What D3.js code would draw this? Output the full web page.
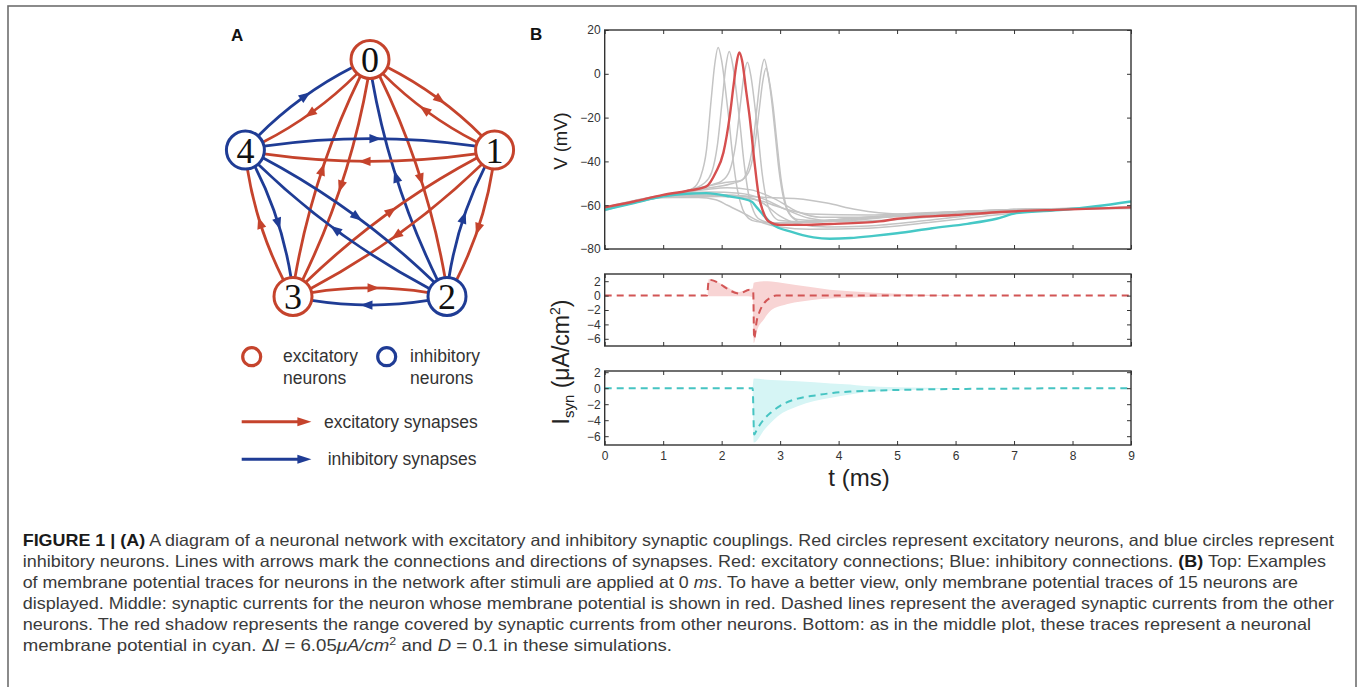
<!DOCTYPE html>
<html>
<head>
<meta charset="utf-8">
<script src="https://cdn.jsdelivr.net/npm/d3@7"></script>
<style>
body { margin: 0; background: #fff; }
text { font-family: "Liberation Sans", Arial, sans-serif; }
</style>
</head>
<body>
<svg width="1360" height="687"></svg>
<script>
// ---- data ----
let neuronTypes = ["exc", "exc", "inh", "exc", "inh"]
let links = [[0,1],[1,0],[0,2],[2,0],[0,3],[3,0],[0,4],[4,0],[1,2],[2,1],
             [1,3],[3,1],[1,4],[4,1],[2,3],[3,2],[2,4],[4,2],[3,4],[4,3]]

let tTicks = [0, 1, 2, 3, 4, 5, 6, 7, 8, 9]
let vTicks = [20, 0, -20, -40, -60, -80]
let iTicks = [2, 0, -2, -4, -6]

let redTrace = [[0,-61],[0.5,-58.3],[1,-55.3],[1.4,-53.5],[1.74,-51.4],[1.9,-45],[2.03,-36],[2.14,-19],[2.2,-6],[2.25,4],[2.3,9.8],[2.35,6],[2.42,-8],[2.48,-20],[2.56,-40],[2.63,-55],[2.71,-63],[2.8,-67.3],[3.0,-69],[3.4,-69],[3.85,-68.6],[4.7,-67.4],[5,-66.2],[6,-64.5],[6.7,-63.2],[7.84,-62],[9,-61]]

let cyanTrace = [[0,-62.1],[0.5,-59],[1,-56],[1.4,-54.8],[1.74,-54.5],[2.14,-56],[2.51,-58.3],[2.6,-61],[2.71,-64.4],[2.88,-69],[3.17,-72],[3.57,-74.7],[3.85,-75.3],[4.2,-75],[4.6,-74],[5,-72.8],[5.6,-70.5],[6.2,-68.5],[6.7,-66.2],[7.04,-63.6],[7.84,-62.1],[8.4,-60.5],[9,-58.3]]

let grayTraces = [
  [[0,-61],[0.5,-58.5],[1,-55.5],[1.3,-54],[1.5,-52.5],[1.64,-47],[1.74,-35],[1.82,-12],[1.88,4],[1.94,12],[2.0,6],[2.06,-6],[2.12,-20],[2.19,-38],[2.27,-53],[2.36,-62],[2.46,-66],[2.6,-67.5],[2.9,-68],[3.3,-68],[4,-66.5],[5,-65],[6,-63.5],[7,-62.5],[8,-61.5],[9,-61]],
  [[0,-61],[0.5,-58.5],[1,-55.5],[1.4,-53.5],[1.7,-50],[1.83,-45],[1.93,-32],[2.01,-12],[2.07,3],[2.13,10.2],[2.19,4],[2.25,-8],[2.31,-22],[2.38,-40],[2.46,-55],[2.55,-63],[2.65,-66.5],[2.85,-68],[3.3,-68],[4,-67],[5,-65],[6,-63.5],[7,-62.5],[8,-61.5],[9,-61]],
  [[0,-61.5],[1,-56],[1.6,-53],[1.85,-50.5],[2.0,-49],[2.14,-44],[2.24,-32],[2.32,-14],[2.38,-1],[2.44,5.3],[2.5,-1],[2.56,-13],[2.62,-27],[2.69,-45],[2.77,-58],[2.87,-64.5],[3.0,-67],[3.3,-67.5],[3.6,-67.5],[4.2,-66],[5,-64.5],[6,-63],[7,-62],[8,-61.5],[9,-61]],
  [[0,-61.5],[1,-56],[1.8,-52],[2.2,-50],[2.35,-48.5],[2.43,-45],[2.53,-33],[2.61,-14],[2.67,0],[2.73,6.7],[2.79,0],[2.85,-11],[2.91,-26],[2.98,-44],[3.06,-57],[3.16,-64],[3.3,-66.5],[3.6,-67],[4,-66.5],[5,-64.5],[6,-63],[7,-62],[8,-61.5],[9,-61]],
  [[0,-62],[1,-56],[1.8,-51],[2.1,-49.5],[2.3,-49],[2.46,-45],[2.56,-34],[2.64,-17],[2.7,-4],[2.76,2.6],[2.82,-4],[2.88,-15],[2.94,-30],[3.01,-47],[3.09,-59],[3.19,-65],[3.35,-67.5],[3.7,-67.5],[4.2,-67],[5,-65],[6,-63.5],[7,-62],[8,-61.5],[9,-61]],
  [[0,-62],[1,-56],[1.6,-55],[2.2,-55.5],[2.8,-56.5],[3.3,-57],[3.8,-59],[4.3,-62],[5,-64],[6,-63.5],[7,-62.5],[8,-61.5],[9,-61]],
  [[0,-62],[1,-56.5],[1.6,-56.5],[1.9,-57.5],[2.1,-60],[2.4,-64],[2.7,-68],[3,-70],[3.5,-71],[4.5,-70.5],[5.5,-68],[6.5,-65],[7.5,-62.5],[9,-61]],
  [[0,-62],[1,-56],[2,-55.5],[2.4,-56],[2.7,-59],[3,-65],[3.3,-68.5],[3.8,-70],[4.5,-69.5],[5.5,-67],[6.5,-64],[7.5,-62],[9,-61.5]],
  [[0,-61.5],[1,-55.5],[1.7,-53],[2.1,-52],[2.5,-53],[2.9,-57],[3.3,-63],[3.7,-65.5],[4.5,-65.5],[5.5,-64.5],[7,-62.5],[9,-61]],
  [[0,-61],[1,-55.5],[1.8,-54],[2.3,-54.5],[2.7,-57],[3.1,-62],[3.5,-66],[4,-67.5],[5,-66.5],[6,-64.5],[7,-62.5],[9,-61]],
  [[0,-62.5],[1,-56.5],[2,-56],[2.6,-57.5],[3,-61],[3.5,-64],[4.5,-64.5],[5.5,-63.5],[7,-62],[9,-61]]
]

// [t, mean]
let redMean = [[0,0],[1.75,0],[1.78,2.2],[2.3,0.3],[2.48,0.8],[2.54,0.5],[2.555,-6.0],[2.6,-3.5],[2.65,-2.2],[2.73,-1.0],[2.83,-0.3],[2.93,0],[9,0]]
// [t, low, high]
let redBand = [[1.76,0,0],[1.78,-0.1,2.3],[2.0,-0.1,1.6],[2.3,-0.1,0.5],[2.45,-0.1,0.9],[2.53,-0.2,1.0],[2.55,-6.6,1.8],[2.6,-5.0,1.9],[2.73,-3.2,2.0],[2.85,-2.0,1.95],[3.07,-1.3,1.7],[3.3,-0.9,1.45],[3.55,-0.6,1.15],[3.85,-0.4,0.8],[4.2,-0.3,0.6],[4.6,-0.2,0.4],[5.0,-0.1,0.25],[5.5,-0.05,0.12],[6,0,0.04]]

let cyanMean = [[0,0],[2.53,0],[2.555,-5.8],[2.6,-5.2],[2.7,-4.1],[2.85,-3.0],[3.0,-2.2],[3.3,-1.3],[3.6,-0.9],[3.9,-0.6],[4.2,-0.42],[4.6,-0.3],[5,-0.22],[6,-0.1],[7,-0.05],[8,0],[9,0]]
let cyanBand = [[2.53,0,0],[2.55,-6.8,1.2],[2.73,-5.2,1.1],[2.96,-3.5,1.0],[3.3,-2.25,0.87],[3.87,-1.2,0.6],[4.2,-0.8,0.46],[4.4,-0.55,0.3],[5,-0.3,0.12],[5.5,-0.15,0.05],[6,-0.05,0]]

let captionLines = [
  [["FIGURE 1 | (A)", "b"], [" A diagram of a neuronal network with excitatory and inhibitory synaptic couplings. Red circles represent excitatory neurons, and blue circles represent", ""]],
  [["inhibitory neurons. Lines with arrows mark the connections and directions of synapses. Red: excitatory connections; Blue: inhibitory connections. ", ""], ["(B)", "b"], [" Top: Examples", ""]],
  [["of membrane potential traces for neurons in the network after stimuli are applied at 0 ", ""], ["ms", "i"], [". To have a better view, only membrane potential traces of 15 neurons are", ""]],
  [["displayed. Middle: synaptic currents for the neuron whose membrane potential is shown in red. Dashed lines represent the averaged synaptic currents from the other", ""]],
  [["neurons. The red shadow represents the range covered by synaptic currents from other neurons. Bottom: as in the middle plot, these traces represent a neuronal", ""]],
  [["membrane potential in cyan. \u0394", ""], ["I", "i"], [" = 6.05", ""], ["\u03bcA/cm", "i"], ["2", "sup"], [" and ", ""], ["D", "i"], [" = 0.1 in these simulations.", ""]]
]
let captionEnds = [1334, 1326, 1298, 1334, 1311, 672]

// ---- drawing ----
let svg = d3.select("svg")
let excColor = "#c5432c"
let inhColor = "#1f3c95"

svg.append("rect")
   .attr("x", 8).attr("y", 6).attr("width", 1348).attr("height", 700)
   .attr("fill", "none").attr("stroke", "#6e6e6e").attr("stroke-width", 1.6)

// panel A: network
let cx = 370, cy = 190.5, R = 131, r = 19
let nodePos = (i) => {
    let a = (-90 + 72 * i) * Math.PI / 180
    return [cx + R * Math.cos(a), cy + R * Math.sin(a)]
}
let colorOf = (i) => neuronTypes[i] == "exc" ? excColor : inhColor

let edgeGeom = ([s, t]) => {
    let [x1, y1] = nodePos(s), [x2, y2] = nodePos(t)
    let th = Math.atan2(y2 - y1, x2 - x1)
    let L = Math.hypot(x2 - x1, y2 - y1)
    let phi = 12 * Math.PI / 180
    let p0 = [x1 + r * Math.cos(th - phi), y1 + r * Math.sin(th - phi)]
    let p2 = [x2 + r * Math.cos(th + Math.PI + phi), y2 + r * Math.sin(th + Math.PI + phi)]
    let nx = Math.sin(th), ny = -Math.cos(th)
    let off = 0.06 * L
    let c = [(p0[0] + p2[0]) / 2 + nx * off, (p0[1] + p2[1]) / 2 + ny * off]
    return {p0, c, p2}
}
let bez = (g, u) => [0, 1].map(k => (1-u)*(1-u)*g.p0[k] + 2*u*(1-u)*g.c[k] + u*u*g.p2[k])
let bezTan = (g, u) => {
    let d = [0, 1].map(k => 2*(1-u)*(g.c[k]-g.p0[k]) + 2*u*(g.p2[k]-g.c[k]))
    let n = Math.hypot(d[0], d[1])
    return [d[0]/n, d[1]/n]
}
let arrowHead = (p, d, len, w) => {
    let tip = [p[0] + d[0]*len*0.6, p[1] + d[1]*len*0.6]
    let b = [p[0] - d[0]*len*0.4, p[1] - d[1]*len*0.4]
    return "M" + tip + "L" + [b[0] - d[1]*w, b[1] + d[0]*w] + "L" + [b[0] + d[1]*w, b[1] - d[0]*w] + "Z"
}

let net = svg.append("g")
net.selectAll("path.edge")
   .data(links)
   .enter()
   .append("path")
   .attr("class", "edge")
   .attr("d", (d) => { let g = edgeGeom(d); return "M" + g.p0 + "Q" + g.c + " " + g.p2 })
   .attr("fill", "none")
   .attr("stroke", (d) => colorOf(d[0]))
   .attr("stroke-width", 2.8)

net.selectAll("path.head")
   .data(links)
   .enter()
   .append("path")
   .attr("class", "head")
   .attr("d", (d) => { let g = edgeGeom(d); return arrowHead(bez(g, 0.52), bezTan(g, 0.52), 12, 4.6) })
   .attr("fill", (d) => colorOf(d[0]))

let nodeG = net.selectAll("g.node")
   .data(neuronTypes)
   .enter()
   .append("g")
   .attr("class", "node")
   .attr("transform", (d, i) => "translate(" + nodePos(i) + ")")
nodeG.append("circle")
     .attr("r", r)
     .attr("fill", "#fff")
     .attr("stroke", (d) => d == "exc" ? excColor : inhColor)
     .attr("stroke-width", 3)
nodeG.append("text")
     .attr("text-anchor", "middle")
     .attr("y", 12.5)
     .style("font-family", "'Liberation Serif', 'DejaVu Serif', serif")
     .style("font-size", "36px")
     .attr("fill", "#111")
     .text((d, i) => i)

svg.append("text").attr("x", 231).attr("y", 41).text("A")
   .style("font-weight", "bold").style("font-size", "17px").attr("fill", "#111")

// legend
let legend = svg.append("g").style("font-size", "17.5px").attr("fill", "#333")
legend.append("circle").attr("cx", 251.7).attr("cy", 356.7).attr("r", 9)
      .attr("fill", "none").attr("stroke", excColor).attr("stroke-width", 3.2)
legend.append("circle").attr("cx", 386.7).attr("cy", 356.7).attr("r", 9)
      .attr("fill", "none").attr("stroke", inhColor).attr("stroke-width", 3.2)
legend.append("text").attr("x", 283).attr("y", 362).text("excitatory")
legend.append("text").attr("x", 283).attr("y", 384).text("neurons")
legend.append("text").attr("x", 410).attr("y", 362).text("inhibitory")
legend.append("text").attr("x", 410).attr("y", 384).text("neurons")
let legArrows = [[421.7, excColor, "excitatory synapses", 324], [459.3, inhColor, "inhibitory synapses", 327.7]]
legArrows.forEach(([y, col, label, tx]) => {
    legend.append("line").attr("x1", 241.7).attr("x2", 302).attr("y1", y).attr("y2", y)
          .attr("stroke", col).attr("stroke-width", 3)
    legend.append("path").attr("d", arrowHead([303, y], [1, 0], 14, 4.5)).attr("fill", col)
    legend.append("text").attr("x", tx).attr("y", y + 6).text(label)
})

// panel B
svg.append("text").attr("x", 530).attr("y", 40).text("B")
   .style("font-weight", "bold").style("font-size", "17px").attr("fill", "#111")

let x0 = 604.7, x1 = 1131
let xScale = d3.scaleLinear().domain([0, 9]).range([x0, x1])
let panels = [
    {y: d3.scaleLinear().domain([-80, 20]).range([249, 30]), ticks: vTicks},
    {y: d3.scaleLinear().domain([-7, 3]).range([346, 274]), ticks: iTicks},
    {y: d3.scaleLinear().domain([-7.1, 2.15]).range([445, 371]), ticks: iTicks}
]

let styleAxis = (g) => {
    g.select(".domain").remove()
    g.selectAll(".tick line").attr("stroke", "#333").attr("stroke-width", 1)
    g.selectAll(".tick text").attr("fill", "#333").style("font-size", "12px")
}

panels.forEach((p, k) => {
    let [yb, yt] = p.y.range()
    svg.append("clipPath").attr("id", "clip" + k)
       .append("rect").attr("x", x0).attr("y", yt).attr("width", x1 - x0).attr("height", yb - yt)
    p.g = svg.append("g").attr("clip-path", "url(#clip" + k + ")")

    let bottomAxis = d3.axisBottom(xScale).tickValues(tTicks).tickSize(-4).tickPadding(6)
    if (k < 2) bottomAxis.tickFormat("")
    svg.append("g").attr("transform", "translate(0," + yb + ")").call(bottomAxis).call(styleAxis)
    svg.append("g").attr("transform", "translate(0," + yt + ")")
       .call(d3.axisTop(xScale).tickValues(tTicks).tickSize(-4).tickFormat("")).call(styleAxis)
    svg.append("g").attr("transform", "translate(" + x0 + ",0)")
       .call(d3.axisLeft(p.y).tickValues(p.ticks).tickSize(-4).tickPadding(4)).call(styleAxis)
    svg.append("g").attr("transform", "translate(" + x1 + ",0)")
       .call(d3.axisRight(p.y).tickValues(p.ticks).tickSize(-4).tickFormat("")).call(styleAxis)
})

let lineOf = (ys) => d3.line().x((d) => xScale(d[0])).y((d) => ys(d[1])).curve(d3.curveMonotoneX)
let areaOf = (ys) => d3.area().x((d) => xScale(d[0])).y0((d) => ys(d[1])).y1((d) => ys(d[2])).curve(d3.curveMonotoneX)

// top: membrane potentials
let vPanel = panels[0]
vPanel.g.selectAll("path.gray")
     .data(grayTraces)
     .enter()
     .append("path")
     .attr("class", "gray")
     .attr("d", lineOf(vPanel.y))
     .attr("fill", "none")
     .attr("stroke", "#c4c4c4")
     .attr("stroke-width", 1.5)
vPanel.g.append("path").attr("d", lineOf(vPanel.y)(cyanTrace))
     .attr("fill", "none").attr("stroke", "#46c8c6").attr("stroke-width", 2.4)
vPanel.g.append("path").attr("d", lineOf(vPanel.y)(redTrace))
     .attr("fill", "none").attr("stroke", "#d64f4f").attr("stroke-width", 2.4)

// middle: red neuron currents
let midPanel = panels[1]
midPanel.g.append("path").attr("d", areaOf(midPanel.y)(redBand)).attr("fill", "#f8d4d4")
midPanel.g.append("path").attr("d", lineOf(midPanel.y)(redMean))
     .attr("fill", "none").attr("stroke", "#d25555").attr("stroke-width", 2)
     .attr("stroke-dasharray", "7,5")

// bottom: cyan neuron currents
let botPanel = panels[2]
botPanel.g.append("path").attr("d", areaOf(botPanel.y)(cyanBand)).attr("fill", "#d6f5f5")
botPanel.g.append("path").attr("d", lineOf(botPanel.y)(cyanMean))
     .attr("fill", "none").attr("stroke", "#46c4c2").attr("stroke-width", 2)
     .attr("stroke-dasharray", "7,5")

// frames
panels.forEach((p) => {
    let [yb, yt] = p.y.range()
    svg.append("rect").attr("x", x0).attr("y", yt).attr("width", x1 - x0).attr("height", yb - yt)
       .attr("fill", "none").attr("stroke", "#333").attr("stroke-width", 1.4)
})

// axis labels
svg.append("text").attr("transform", "translate(566.5,141) rotate(-90)")
   .attr("text-anchor", "middle").style("font-size", "18.5px").attr("fill", "#222")
   .text("V (mV)")
let iLab = svg.append("text").attr("transform", "translate(569,362) rotate(-90)")
   .attr("text-anchor", "middle").style("font-size", "23px").attr("fill", "#222")
iLab.append("tspan").text("I")
iLab.append("tspan").attr("dy", 5).style("font-size", "15px").text("syn")
iLab.append("tspan").attr("dy", -5).text(" (\u03bcA/cm")
iLab.append("tspan").attr("dy", -9).style("font-size", "14px").text("2")
iLab.append("tspan").attr("dy", 9).text(")")
svg.append("text").attr("x", 859).attr("y", 486).attr("text-anchor", "middle")
   .style("font-size", "24px").attr("fill", "#222").text("t (ms)")

// caption
let cap = svg.append("g")
   .style("font-family", "'Liberation Sans Narrow', 'Arial Narrow', 'Liberation Sans', sans-serif")
   .style("font-size", "16.5px").attr("fill", "#3a3a3a")
captionLines.forEach((segs, i) => {
    let t = cap.append("text").attr("x", 22.7).attr("y", 546 + 21 * i)
       .attr("textLength", captionEnds[i] - 22.7).attr("lengthAdjust", "spacingAndGlyphs")
    let shifted = false
    segs.forEach(([s, st]) => {
        let ts = t.append("tspan").text(s)
        if (st == "b") ts.style("font-weight", "bold").attr("fill", "#1a1a1a")
        if (st == "i") ts.style("font-style", "italic")
        if (st == "sup") { ts.attr("dy", -6).style("font-size", "11px"); shifted = true }
        else if (shifted) { ts.attr("dy", 6); shifted = false }
    })
})
</script>
</body>
</html>
